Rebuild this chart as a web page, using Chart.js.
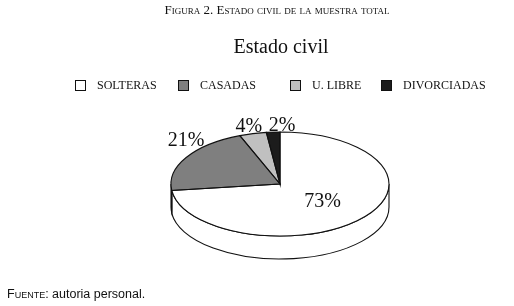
<!DOCTYPE html>
<html>
<head>
<meta charset="utf-8">
<script src="https://cdn.jsdelivr.net/npm/chart.js@4/dist/chart.umd.min.js"></script>
<style>
  html, body { margin: 0; padding: 0; background: #fff; }
  #wrap { position: relative; width: 514px; height: 306px; overflow: hidden; }
  #chart { position: absolute; left: 0; top: 0; }
  .caption {
    position: absolute; left: 0; width: 554px; top: 2px; text-align: center;
    font-family: 'Liberation Serif', 'Times New Roman', serif; font-size: 13px;
    font-variant: small-caps; color: #111;
  }
  .source {
    position: absolute; left: 7px; top: 287px;
    font-family: 'Liberation Sans', Arial, sans-serif; font-size: 12.5px; color: #111;
  }
  .source span { font-variant: small-caps; }
</style>
</head>
<body>
<div id="wrap">
  <canvas id="chart" width="514" height="306"></canvas>
  <div class="caption">Figura 2. Estado civil de la muestra total</div>
  <div class="source"><span>Fuente</span>: autoria personal.</div>
</div>
<script>
// Estado civil - pie chart
const categories = ['SOLTERAS', 'CASADAS', 'U. LIBRE', 'DIVORCIADAS'];
const percentages = [73, 21, 4, 2];
const sliceColors = ['#ffffff', '#7f7f7f', '#c0c0c0', '#1c1c1c'];

const serif = "'Liberation Serif', 'Times New Roman', serif";
const tilt = 0.477;   // vertical squash of the pie
const depth = 23;     // thickness of the 3d side

const ellipsePoint = (cx, cy, r, ry, a) => [cx + r * Math.cos(a), cy + ry * Math.sin(a)];

const pie3d = {
    id: 'pie3d',
    beforeDatasetsDraw(chart) {
        const ctx = chart.ctx;
        const arcs = chart.getDatasetMeta(0).data;
        const { x: cx, y: cy, outerRadius: r } = arcs[0];
        const ry = r * tilt;

        // side wall, only the front half is visible
        ctx.save();
        ctx.lineWidth = 1.1;
        ctx.strokeStyle = '#111';
        arcs.forEach((arc, i) => {
            const a0 = Math.max(arc.startAngle, 0);
            const a1 = Math.min(arc.endAngle, Math.PI);
            if (a1 <= a0) return;
            const [x0, y0] = ellipsePoint(cx, cy, r, ry, a0);
            const [x1, y1] = ellipsePoint(cx, cy, r, ry, a1);
            ctx.beginPath();
            ctx.moveTo(x0, y0);
            ctx.ellipse(cx, cy, r, ry, 0, a0, a1);
            ctx.lineTo(x1, y1 + depth);
            ctx.ellipse(cx, cy + depth, r, ry, 0, a1, a0, true);
            ctx.closePath();
            ctx.fillStyle = sliceColors[i];
            ctx.fill();
            ctx.stroke();
        });
        ctx.restore();

        // squash the top face
        ctx.save();
        ctx.translate(cx, cy);
        ctx.scale(1, tilt);
        ctx.translate(-cx, -cy);
    },
    afterDatasetsDraw(chart) {
        const ctx = chart.ctx;
        ctx.restore();
        const arcs = chart.getDatasetMeta(0).data;
        const { x: cx, y: cy, outerRadius: r } = arcs[0];
        const ry = r * tilt;

        // slice outlines
        ctx.save();
        ctx.lineWidth = 1.1;
        ctx.strokeStyle = '#111';
        arcs.forEach(arc => {
            const [sx, sy] = ellipsePoint(cx, cy, r, ry, arc.startAngle);
            ctx.beginPath();
            ctx.moveTo(cx, cy);
            ctx.lineTo(sx, sy);
            ctx.ellipse(cx, cy, r, ry, 0, arc.startAngle, arc.endAngle);
            ctx.closePath();
            ctx.stroke();
        });

        // percent labels
        const nudgeX = [0, 0, -4, 9];
        const nudgeY = [0, -12, -2, -1];
        ctx.fillStyle = '#111';
        ctx.font = '20px ' + serif;
        ctx.textAlign = 'center';
        arcs.forEach((arc, i) => {
            const mid = (arc.startAngle + arc.endAngle) / 2;
            const text = percentages[i] + '%';
            if (i === 0) {
                const [lx, ly] = ellipsePoint(cx, cy, r * 0.52, ry * 0.52, mid);
                ctx.textBaseline = 'middle';
                ctx.fillText(text, lx, ly);
            } else {
                const [ex, ey] = ellipsePoint(cx, cy, r, ry, mid);
                ctx.textBaseline = 'alphabetic';
                ctx.fillText(text, ex + nudgeX[i], ey + nudgeY[i]);
            }
        });
        ctx.restore();
    },
    afterDraw(chart) {
        const ctx = chart.ctx;
        ctx.save();
        // title
        ctx.fillStyle = '#111';
        ctx.font = '20px ' + serif;
        ctx.textAlign = 'center';
        ctx.textBaseline = 'alphabetic';
        ctx.fillText('Estado civil', 281, 53);

        // legend
        const boxX = [75, 178, 290, 381];
        ctx.font = '12px ' + serif;
        ctx.textAlign = 'left';
        ctx.textBaseline = 'middle';
        ctx.lineWidth = 1;
        ctx.strokeStyle = '#111';
        categories.forEach((name, i) => {
            ctx.fillStyle = sliceColors[i];
            ctx.fillRect(boxX[i] + 0.5, 80.5, 10, 10);
            ctx.strokeRect(boxX[i] + 0.5, 80.5, 10, 10);
            ctx.fillStyle = '#111';
            ctx.fillText(name, boxX[i] + 22, 86);
        });
        ctx.restore();
    }
};

const estadoCivil = document.getElementById('chart').getContext('2d');

const estadoChart = new Chart(estadoCivil, {
    type: 'pie',
    data: {
        labels: categories,
        datasets: [{
            data: percentages,
            backgroundColor: sliceColors,
            borderWidth: 0
        }]
    },
    options: {
        responsive: false,
        animation: false,
        events: [],
        layout: {
            padding: { left: 171, right: 125, top: 75, bottom: 13 }
        },
        plugins: {
            legend: { display: false },
            title: { display: false },
            tooltip: { enabled: false }
        }
    },
    plugins: [pie3d]
});
</script>
</body>
</html>
